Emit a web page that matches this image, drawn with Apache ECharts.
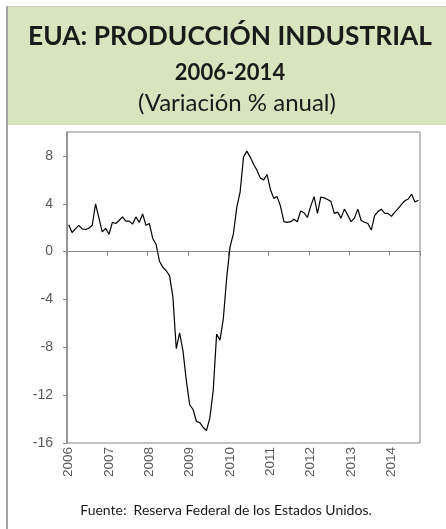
<!DOCTYPE html>
<html>
<head>
<meta charset="utf-8">
<script src="https://cdn.jsdelivr.net/npm/echarts@6/dist/echarts.min.js"></script>
<style>
html,body{margin:0;padding:0;background:#fff;}
#c{width:446px;height:529px;}
</style>
</head>
<body>
<div id="c"></div>
<script>
// ---- data ----
var years = ['2006','2007','2008','2009','2010','2011','2012','2013','2014'];
var monthsInLastYear = 9; // Jan-Sep 2014
var titleLine1 = 'EUA: PRODUCCIÓN INDUSTRIAL';
var titleLine2 = '2006-2014';
var titleLine3 = '(Variación % anual)';
var sourceText = 'Fuente:  Reserva Federal de los Estados Unidos.';
var yTicks = [-16, -12, -8, -4, 0, 4, 8];
var values = [
  2.25, 1.6, 1.9, 2.2, 1.9, 1.85, 1.95, 2.2, 4.0, 2.8, 1.65, 1.95,
  1.45, 2.45, 2.35, 2.6, 2.9, 2.55, 2.55, 2.3, 2.9, 2.45, 3.15, 2.2,
  2.35, 1.1, 0.6, -0.8, -1.3, -1.6, -2.0, -3.8, -8.1, -6.8, -8.3, -10.8,
  -12.8, -13.2, -14.2, -14.3, -14.7, -14.95, -13.9, -11.6, -6.9, -7.4, -5.6, -2.2,
  0.4, 1.5, 3.7, 5.0, 7.9, 8.4, 7.9, 7.3, 6.8, 6.15, 6.0, 6.45,
  5.2, 4.45, 4.6, 3.8, 2.5, 2.45, 2.5, 2.7, 2.5, 3.4, 3.25, 2.85,
  3.8, 4.6, 3.2, 4.55, 4.5, 4.35, 4.2, 3.2, 3.3, 2.8, 3.55, 3.05,
  2.5, 2.8, 3.55, 2.6, 2.45, 2.35, 1.8, 3.0, 3.35, 3.55, 3.2, 3.2,
  2.95, 3.3, 3.6, 3.95, 4.25, 4.4, 4.8, 4.15, 4.3
];

// categories (monthly)
var categories = [];
years.forEach(function (y, yi) {
  var n = (yi === years.length - 1) ? monthsInLastYear : 12;
  for (var m = 1; m <= n; m++) categories.push(y + '-' + (m < 10 ? '0' + m : m));
});

var chart = echarts.init(document.getElementById('c'), null, {renderer: 'canvas'});
var axisGray = '#868686';
var labelGray = '#595959';

chart.setOption({
  animation: false,
  backgroundColor: '#ffffff',
  grid: {
    left: 67, right: 26, top: 132, bottom: 86,
    show: true, borderColor: axisGray, borderWidth: 1, backgroundColor: 'transparent'
  },
  graphic: [
    {type: 'rect', shape: {x: 7, y: 7, width: 445, height: 118}, style: {fill: '#d8e4bd'}, z: -10},
    {type: 'line', shape: {x1: 6, y1: 6.5, x2: 446, y2: 6.5}, style: {stroke: '#cfcfcf', lineWidth: 1}},
    {type: 'line', shape: {x1: 7, y1: 6, x2: 7, y2: 529}, style: {stroke: '#a6a6a6', lineWidth: 2}},
    {type: 'text', x: 230, y: 37, style: {text: titleLine1, font: 'bold 26.3px Lato', fill: '#1a1a1a', align: 'center', verticalAlign: 'middle'}},
    {type: 'text', x: 230, y: 73, style: {text: titleLine2, font: 'bold 22px Lato', fill: '#1a1a1a', align: 'center', verticalAlign: 'middle'}},
    {type: 'text', x: 237, y: 103, style: {text: titleLine3, font: '24px Lato', fill: '#1a1a1a', align: 'center', verticalAlign: 'middle'}},
    {type: 'text', x: 226, y: 510, style: {text: sourceText, font: '14px Lato', fill: '#1a1a1a', align: 'center', verticalAlign: 'middle'}}
  ],
  xAxis: [
    {
      type: 'category', data: categories, boundaryGap: true,
      axisLine: {onZero: true, lineStyle: {color: axisGray, width: 1}},
      axisTick: {show: true, interval: 11, length: 4, lineStyle: {color: axisGray}},
      axisLabel: {show: false},
      splitLine: {show: false}
    },
    {
      type: 'category', data: categories, boundaryGap: true, position: 'bottom',
      axisLine: {show: false, onZero: false},
      axisTick: {show: false},
      axisLabel: {
        show: true, interval: 11, rotate: 90, margin: 4,
        color: labelGray, fontFamily: 'Liberation Sans', fontSize: 13.5,
        formatter: function (v) { return v.slice(0, 4); }
      },
      splitLine: {show: false}
    }
  ],
  yAxis: {
    type: 'value', min: -16, max: 10, interval: 4,
    axisLine: {show: true, lineStyle: {color: axisGray, width: 1.5}},
    axisTick: {show: true, length: 4, inside: false, lineStyle: {color: axisGray}, customValues: yTicks},
    axisLabel: {color: labelGray, fontFamily: 'Liberation Sans', fontSize: 14, margin: 14, customValues: yTicks},
    splitLine: {show: false}
  },
  series: [{
    type: 'line', data: values, xAxisIndex: 0, showSymbol: false, symbol: 'none',
    lineStyle: {color: '#000000', width: 1.2}
  }]
});
</script>
</body>
</html>
